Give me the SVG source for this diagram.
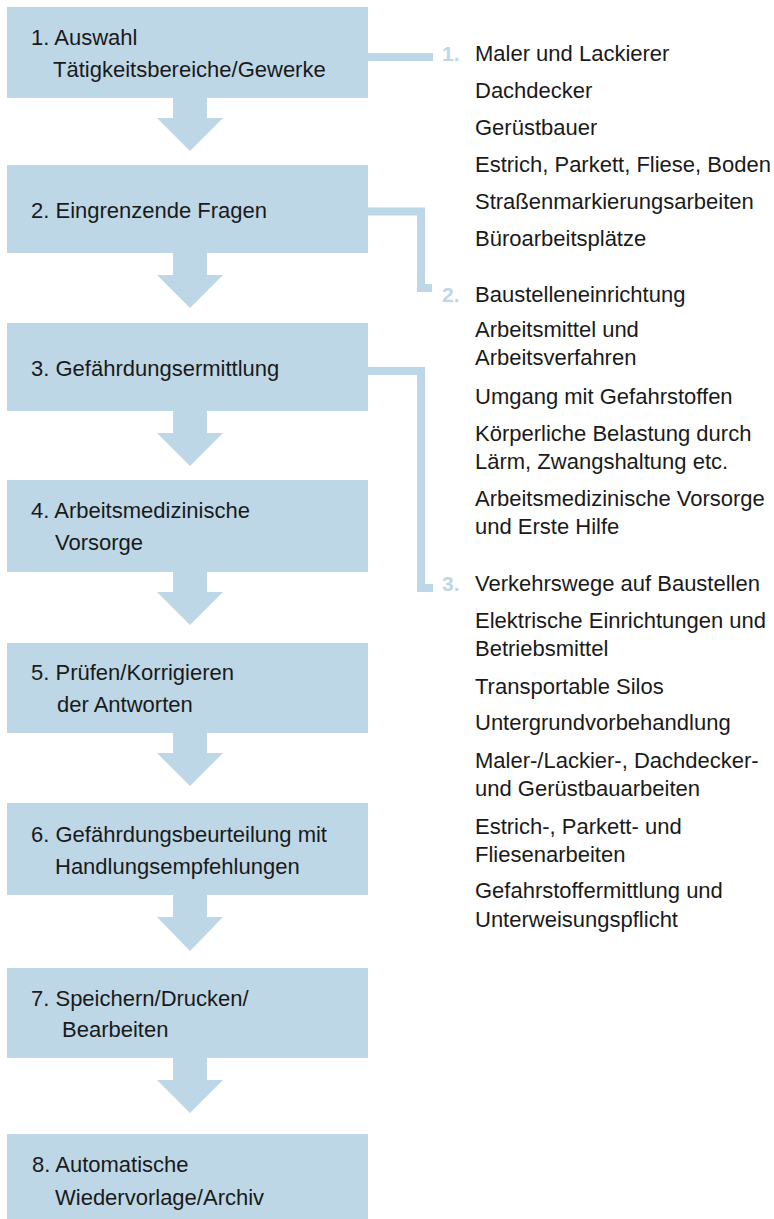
<svg xmlns="http://www.w3.org/2000/svg" width="774" height="1219" viewBox="0 0 774 1219">
<style>
.box{fill:#bed7e6}
.arr{fill:#bed7e6}
.t{font-family:"Liberation Sans",Arial,sans-serif;font-size:22px;fill:#1a1a1a}
.l{font-family:"Liberation Sans",Arial,sans-serif;font-size:22px;fill:#1a1a1a}
.n{font-family:"Liberation Sans",Arial,sans-serif;font-size:21px;font-weight:bold;fill:#bed7e6}
.c{fill:none;stroke:#bed7e6;stroke-width:8}
</style>
<rect width="774" height="1219" fill="#ffffff"/>
<g id="connectors">
<polygon class="arr" points="173,98 207,98 207,118 223,118 190,151 157,118 173,118"/>
<polygon class="arr" points="173,253 207,253 207,275 223,275 190,308 157,275 173,275"/>
<polygon class="arr" points="173,411 207,411 207,433 223,433 190,466 157,433 173,433"/>
<polygon class="arr" points="173,572 207,572 207,592 223,592 190,625 157,592 173,592"/>
<polygon class="arr" points="173,733 207,733 207,753 223,753 190,786 157,753 173,753"/>
<polygon class="arr" points="173,895 207,895 207,917 223,917 190,951 157,917 173,917"/>
<polygon class="arr" points="173,1058 207,1058 207,1080 223,1080 190,1113 157,1080 173,1080"/>
<path class="c" d="M368,57 H433"/>
<path class="c" d="M368,211.5 H421 V288 H432"/>
<path class="c" d="M368,371 H421 V588 H433"/>
</g>
<g id="node1"><rect class="box" x="7" y="7" width="361" height="91"/><text class="t" x="31" y="45">1. Auswahl</text><text class="t" x="53" y="77">Tätigkeitsbereiche/Gewerke</text></g>
<g id="node2"><rect class="box" x="7" y="165" width="361" height="88"/><text class="t" x="31" y="218">2. Eingrenzende Fragen</text></g>
<g id="node3"><rect class="box" x="7" y="323" width="361" height="88"/><text class="t" x="31" y="376">3. Gefährdungsermittlung</text></g>
<g id="node4"><rect class="box" x="7" y="480" width="361" height="92"/><text class="t" x="31" y="518">4. Arbeitsmedizinische</text><text class="t" x="55" y="550">Vorsorge</text></g>
<g id="node5"><rect class="box" x="7" y="643" width="361" height="90"/><text class="t" x="31" y="680">5. Prüfen/Korrigieren</text><text class="t" x="57" y="712">der Antworten</text></g>
<g id="node6"><rect class="box" x="7" y="803" width="361" height="92"/><text class="t" x="31" y="842">6. Gefährdungsbeurteilung mit</text><text class="t" x="55" y="874">Handlungsempfehlungen</text></g>
<g id="node7"><rect class="box" x="7" y="968" width="361" height="90"/><text class="t" x="31" y="1006">7. Speichern/Drucken/</text><text class="t" x="62" y="1037">Bearbeiten</text></g>
<g id="node8"><rect class="box" x="7" y="1134" width="361" height="85"/><text class="t" x="32" y="1172">8. Automatische</text><text class="t" x="55" y="1205">Wiedervorlage/Archiv</text></g>
<g id="list1">
<text class="n" x="442" y="61">1.</text>
<text class="l" x="475" y="61">Maler und Lackierer</text>
<text class="l" x="475" y="98">Dachdecker</text>
<text class="l" x="475" y="135">Gerüstbauer</text>
<text class="l" x="475" y="172">Estrich, Parkett, Fliese, Boden</text>
<text class="l" x="475" y="209">Straßenmarkierungsarbeiten</text>
<text class="l" x="475" y="246">Büroarbeitsplätze</text>
</g>
<g id="list2">
<text class="n" x="442" y="302">2.</text>
<text class="l" x="475" y="302">Baustelleneinrichtung</text>
<text class="l" x="475" y="337">Arbeitsmittel und</text>
<text class="l" x="475" y="365">Arbeitsverfahren</text>
<text class="l" x="475" y="404">Umgang mit Gefahrstoffen</text>
<text class="l" x="475" y="441">Körperliche Belastung durch</text>
<text class="l" x="475" y="469">Lärm, Zwangshaltung etc.</text>
<text class="l" x="475" y="506">Arbeitsmedizinische Vorsorge</text>
<text class="l" x="475" y="534">und Erste Hilfe</text>
</g>
<g id="list3">
<text class="n" x="442" y="591">3.</text>
<text class="l" x="475" y="591">Verkehrswege auf Baustellen</text>
<text class="l" x="475" y="628">Elektrische Einrichtungen und</text>
<text class="l" x="475" y="656">Betriebsmittel</text>
<text class="l" x="475" y="694">Transportable Silos</text>
<text class="l" x="475" y="730">Untergrundvorbehandlung</text>
<text class="l" x="475" y="768">Maler-/Lackier-, Dachdecker-</text>
<text class="l" x="475" y="796">und Gerüstbauarbeiten</text>
<text class="l" x="475" y="834">Estrich-, Parkett- und</text>
<text class="l" x="475" y="862">Fliesenarbeiten</text>
<text class="l" x="475" y="898">Gefahrstoffermittlung und</text>
<text class="l" x="475" y="927">Unterweisungspflicht</text>
</g>
</svg>
